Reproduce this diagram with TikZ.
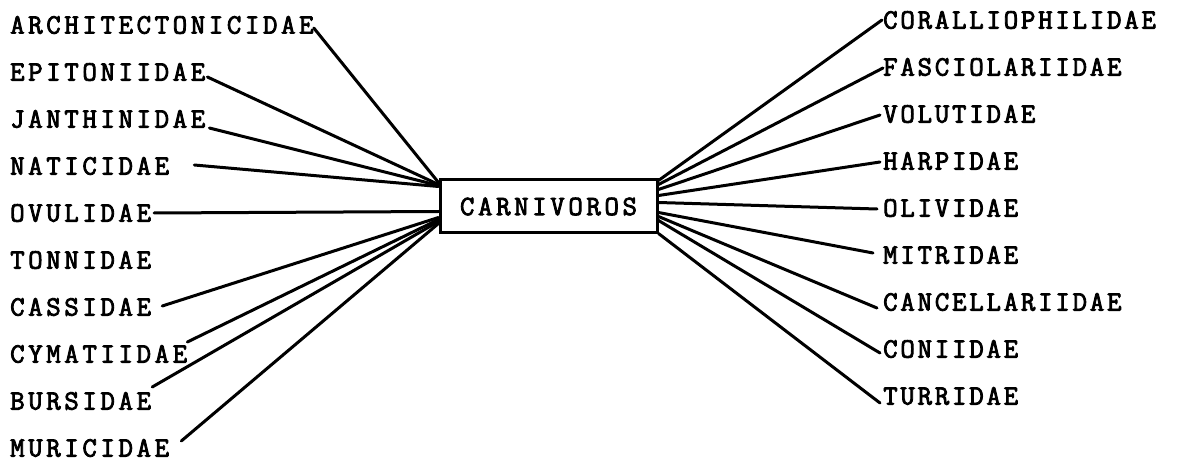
\documentclass[tikz,border=0pt]{standalone}
\usepackage{fontspec}
\newfontfamily\typed[LetterSpace=10,FakeBold=3]{Latin Modern Mono}
\newfontfamily\typedwide[LetterSpace=13,FakeBold=3]{Latin Modern Mono}
\usepackage{tikz}
\usetikzlibrary{positioning}
\tikzset{
  fam/.style={font=\typed\fontsize{28pt}{30pt}\selectfont,inner sep=0pt},
  famwide/.style={fam,font=\typedwide\fontsize{28pt}{30pt}\selectfont},
  box/.style={draw,line width=3pt,minimum width=217pt,minimum height=53pt,%
    font=\typedwide\fontsize{28pt}{30pt}\selectfont,inner sep=0pt},
  link/.style={line width=3pt,line cap=round},
}

\begin{document}
\begin{tikzpicture}[x=1pt,y=-1pt]
\useasboundingbox (0,0) rectangle (1189,462);
\node[box] (carn) at (548.5,206.5) {CARNIVOROS};
% left column
\node[famwide,anchor=west] (archi) at (10,25) {ARCHITECTONICIDAE};
\node[famwide,below=47pt of archi.west,anchor=west] (epit) {EPITONIIDAE};
\node[famwide,below=47pt of epit.west,anchor=west] (janth) {JANTHINIDAE};
\node[famwide,below=47pt of janth.west,anchor=west] (natic) {NATICIDAE};
\node[famwide,below=47pt of natic.west,anchor=west] (ovul) {OVULIDAE};
\node[famwide,below=47pt of ovul.west,anchor=west] (tonn) {TONNIDAE};
\node[famwide,below=47pt of tonn.west,anchor=west] (cass) {CASSIDAE};
\node[famwide,below=47pt of cass.west,anchor=west] (cymat) {CYMATIIDAE};
\node[famwide,below=47pt of cymat.west,anchor=west] (burs) {BURSIDAE};
\node[famwide,below=47pt of burs.west,anchor=west] (muric) {MURICIDAE};
% right column
\node[fam,anchor=west] (coral) at (883,20) {CORALLIOPHILIDAE};
\node[fam,below=47pt of coral.west,anchor=west] (fasc) {FASCIOLARIIDAE};
\node[fam,below=47pt of fasc.west,anchor=west] (volut) {VOLUTIDAE};
\node[fam,below=47pt of volut.west,anchor=west] (harp) {HARPIDAE};
\node[fam,below=47pt of harp.west,anchor=west] (oliv) {OLIVIDAE};
\node[fam,below=47pt of oliv.west,anchor=west] (mitr) {MITRIDAE};
\node[fam,below=47pt of mitr.west,anchor=west] (cancel) {CANCELLARIIDAE};
\node[fam,below=47pt of cancel.west,anchor=west] (coni) {CONIIDAE};
\node[fam,below=47pt of coni.west,anchor=west] (turr) {TURRIDAE};
% left connectors
\draw[link] ([yshift=-3pt]archi.east) -- ([yshift=-4pt]carn.north west);
\draw[link] ([xshift=2pt,yshift=-5pt]epit.east) -- ([yshift=-6pt]carn.north west);
\draw[link] ([xshift=4pt,yshift=-9pt]janth.east) -- ([yshift=-7pt]carn.north west);
\draw[link] ([xshift=25pt,yshift=1pt]natic.east) -- ([yshift=-8pt]carn.north west);
\draw[link] ([xshift=3pt]ovul.east) -- ([yshift=-33pt]carn.north west);
\draw[link] ([xshift=11pt,yshift=1pt]cass.east) -- ([yshift=-39pt]carn.north west);
\draw[link] ([yshift=12pt]cymat.east) -- ([yshift=-41pt]carn.north west);
\draw[link] ([xshift=1pt,yshift=14pt]burs.east) -- ([yshift=-43pt]carn.north west);
\draw[link] ([xshift=12pt,yshift=7pt]muric.east) -- ([yshift=-45pt]carn.north west);
% right connectors
\draw[link] ([yshift=-2pt]carn.north east) -- ([xshift=-1pt]coral.west);
\draw[link] ([yshift=-6pt]carn.north east) -- ([yshift=-1pt]fasc.west);
\draw[link] ([yshift=-11pt]carn.north east) -- ([xshift=-3pt,yshift=-1pt]volut.west);
\draw[link] ([yshift=-17pt]carn.north east) -- ([xshift=-3pt,yshift=-1pt]harp.west);
\draw[link] ([yshift=-24pt]carn.north east) -- ([xshift=-6pt,yshift=-1pt]oliv.west);
\draw[link] ([yshift=-34pt]carn.north east) -- ([xshift=-10pt,yshift=2pt]mitr.west);
\draw[link] ([yshift=-38pt]carn.north east) -- ([xshift=-6pt,yshift=-6pt]cancel.west);
\draw[link] ([yshift=-42pt]carn.north east) -- ([xshift=-3pt,yshift=-4pt]coni.west);
\draw[link] ([yshift=1pt]carn.south east) -- ([xshift=-3pt,yshift=-7pt]turr.west);
\end{tikzpicture}
\end{document}
